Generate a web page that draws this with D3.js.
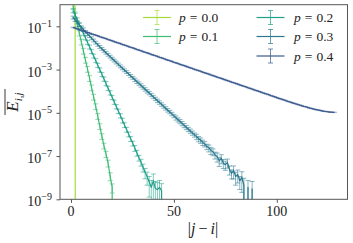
<!DOCTYPE html>
<html><head><meta charset="utf-8">
<script src="https://cdn.jsdelivr.net/npm/d3@7"></script>
<style>body{margin:0;background:#fff}svg{display:block}
text{font-family:"Liberation Serif","Times New Roman",serif;}
</style>
</head><body><svg id="c" width="353" height="243"></svg>
<script>
// ---- data (log10 of mean E_ij, -Infinity = exactly zero) ----
const pLabels = ["0.0", "0.1", "0.2", "0.3", "0.4"];
const colors = ["#a5db36", "#3dbc74", "#1fa088", "#2a788e", "#3b5a8f"];
const xTicks = [0, 50, 100];
const yTickExps = [-1, -3, -5, -7, -9];

const logE_p00 = [0.0, -0.08, -Infinity];
const logE_p01 = [-0.05, -0.45, -0.87, -1.29, -1.71, -2.13, -2.55, -2.97, -3.40, -3.83, -4.26, -4.70, -5.15, -5.62, -6.08, -6.52, -6.90, -7.32, -7.92, -8.45, -Infinity];
const logE_p02 = [-0.27, -0.48, -0.69, -0.90, -1.11, -1.32, -1.53, -1.74, -1.95, -2.16, -2.37, -2.58, -2.80, -3.01, -3.22, -3.43, -3.64, -3.86, -4.07, -4.28, -4.50, -4.71, -4.92, -5.13, -5.35, -5.56, -5.77, -5.99, -6.20, -6.41, -6.63, -6.85, -7.08, -7.28, -7.52, -7.75, -7.95, -8.20, -8.45, -8.15, -8.50, -8.55, -8.45, -8.60, -Infinity];
const logE_p03 = [-0.59, -0.71, -0.82, -0.93, -1.04, -1.14, -1.25, -1.35, -1.45, -1.55, -1.65, -1.75, -1.85, -1.95, -2.04, -2.13, -2.22, -2.31, -2.40, -2.49, -2.58, -2.67, -2.76, -2.85, -2.94, -3.03, -3.11, -3.20, -3.29, -3.38, -3.47, -3.56, -3.64, -3.73, -3.82, -3.91, -4.00, -4.08, -4.17, -4.26, -4.35, -4.44, -4.52, -4.61, -4.70, -4.79, -4.88, -4.96, -5.05, -5.14, -5.23, -5.32, -5.40, -5.49, -5.58, -5.67, -5.76, -5.84, -5.93, -6.02, -6.10, -6.20, -6.27, -6.37, -6.44, -6.56, -6.62, -6.74, -6.80, -6.95, -7.02, -7.22, -7.10, -7.32, -7.40, -7.30, -7.62, -7.80, -7.66, -7.95, -7.85, -8.15, -7.98, -8.35, -Infinity, -8.45, -Infinity, -8.50];
const logE_p04 = [-1.05, -1.08, -1.12, -1.15, -1.18, -1.21, -1.25, -1.28, -1.31, -1.35, -1.38, -1.41, -1.44, -1.48, -1.51, -1.54, -1.57, -1.61, -1.64, -1.67, -1.71, -1.74, -1.77, -1.80, -1.84, -1.87, -1.90, -1.94, -1.97, -2.00, -2.03, -2.07, -2.10, -2.13, -2.17, -2.20, -2.23, -2.26, -2.30, -2.33, -2.36, -2.39, -2.43, -2.46, -2.49, -2.53, -2.56, -2.59, -2.62, -2.66, -2.69, -2.72, -2.76, -2.79, -2.82, -2.85, -2.89, -2.92, -2.95, -2.99, -3.02, -3.05, -3.08, -3.12, -3.15, -3.18, -3.21, -3.25, -3.28, -3.31, -3.35, -3.38, -3.41, -3.44, -3.48, -3.51, -3.54, -3.58, -3.61, -3.64, -3.67, -3.71, -3.74, -3.77, -3.80, -3.84, -3.87, -3.90, -3.94, -3.97, -4.00, -4.03, -4.07, -4.10, -4.13, -4.16, -4.20, -4.23, -4.26, -4.30, -4.33, -4.36, -4.39, -4.42, -4.46, -4.49, -4.52, -4.55, -4.58, -4.61, -4.64, -4.67, -4.70, -4.72, -4.75, -4.78, -4.80, -4.83, -4.85, -4.87, -4.89, -4.91, -4.93, -4.94, -4.955, -4.965, -4.975, -4.98];

// relative standard errors (error / value)
const err_p00 = [0, 0, 0];
const err_p01 = [0.3, 0.3, 0.3, 0.3, 0.3, 0.3, 0.3, 0.3, 0.3, 0.3, 0.3, 0.3, 0.3, 0.3, 0.3, 0.3, 0.32, 0.35, 0.4, 0.45, 0];
const err_p02 = [0.2, 0.2, 0.2, 0.2, 0.2, 0.2, 0.2, 0.2, 0.2, 0.2, 0.2, 0.2, 0.22, 0.22, 0.22, 0.22, 0.22, 0.22, 0.22, 0.22, 0.22, 0.22, 0.22, 0.22, 0.25, 0.25, 0.25, 0.25, 0.25, 0.25, 0.3, 0.3, 0.3, 0.35, 0.4, 0.5, 0.6, 0.8, 1.1, 1.1, 1.1, 1.1, 1.1, 1.1, 0];
const err_p03 = [0.15, 0.15, 0.15, 0.15, 0.15, 0.15, 0.15, 0.15, 0.15, 0.15, 0.15, 0.15, 0.15, 0.15, 0.15, 0.15, 0.15, 0.15, 0.15, 0.15, 0.15, 0.15, 0.15, 0.15, 0.15, 0.15, 0.15, 0.15, 0.15, 0.15, 0.18, 0.18, 0.18, 0.18, 0.18, 0.18, 0.18, 0.18, 0.18, 0.18, 0.18, 0.18, 0.18, 0.18, 0.18, 0.18, 0.18, 0.18, 0.18, 0.18, 0.22, 0.22, 0.22, 0.22, 0.22, 0.22, 0.22, 0.22, 0.22, 0.22, 0.28, 0.28, 0.28, 0.28, 0.28, 0.28, 0.35, 0.35, 0.35, 0.35, 0.45, 0.45, 0.45, 0.45, 0.45, 0.45, 0.45, 0.45, 0.6, 0.6, 0.6, 0.6, 0.8, 1.1, 0, 1.1, 0, 1.1];
const err_p04 = [0.03, 0.03, 0.03, 0.03, 0.03, 0.03, 0.03, 0.03, 0.03, 0.03, 0.03, 0.03, 0.03, 0.03, 0.03, 0.03, 0.03, 0.03, 0.03, 0.03, 0.03, 0.03, 0.03, 0.03, 0.03, 0.03, 0.03, 0.03, 0.03, 0.03, 0.03, 0.03, 0.03, 0.03, 0.03, 0.03, 0.03, 0.03, 0.03, 0.03, 0.03, 0.03, 0.03, 0.03, 0.03, 0.03, 0.03, 0.03, 0.03, 0.03, 0.03, 0.03, 0.03, 0.03, 0.03, 0.03, 0.03, 0.03, 0.03, 0.03, 0.03, 0.03, 0.03, 0.03, 0.03, 0.03, 0.03, 0.03, 0.03, 0.03, 0.03, 0.03, 0.03, 0.03, 0.03, 0.03, 0.03, 0.03, 0.03, 0.03, 0.03, 0.03, 0.03, 0.03, 0.03, 0.03, 0.03, 0.03, 0.03, 0.03, 0.03, 0.03, 0.03, 0.03, 0.03, 0.03, 0.03, 0.03, 0.03, 0.03, 0.03, 0.03, 0.03, 0.03, 0.03, 0.03, 0.03, 0.03, 0.03, 0.03, 0.03, 0.03, 0.03, 0.03, 0.03, 0.03, 0.03, 0.03, 0.03, 0.03, 0.03, 0.03, 0.03, 0.03, 0.03, 0.03, 0.03, 0.03];

const seriesLog = [logE_p00, logE_p01, logE_p02, logE_p03, logE_p04];
const seriesErr = [err_p00, err_p01, err_p02, err_p03, err_p04];

// ---- layout ----
const svg = d3.select("#c");
const L = 60, R = 347.5, T = 4.7, B = 199.3;
const x = d3.scaleLinear().domain([-5.35, 134.35]).range([L, R]);
const y = d3.scaleLog().domain([1e-9, 1]).range([B, T]);
const yOf = v => (v <= 0) ? B + 3000 : y(v);

svg.append("defs").append("clipPath").attr("id", "clip")
  .append("rect").attr("x", L).attr("y", T).attr("width", R - L).attr("height", B - T);

const plot = svg.append("g").attr("clip-path", "url(#clip)");
const capW = 2.5;

seriesLog.forEach((logs, si) => {
  const pts = logs.map((lv, i) => ({d: i + 1, v: lv === -Infinity ? 0 : Math.pow(10, lv), f: seriesErr[si][i]}));
  const g = plot.append("g");
  // error bars
  const eb = g.append("g").attr("stroke", colors[si]).attr("stroke-opacity", si === 4 ? 0.3 : 0.55).attr("stroke-width", 1);
  pts.filter(p => p.v > 0 && p.f > 0).forEach(p => {
    const lo = p.v * (1 - p.f), hi = p.v * (1 + p.f);
    const cx = x(p.d), yl = yOf(lo), yh = yOf(hi);
    eb.append("line").attr("x1", cx).attr("x2", cx).attr("y1", yl).attr("y2", yh);
    eb.append("line").attr("x1", cx - capW).attr("x2", cx + capW).attr("y1", yh).attr("y2", yh);
    eb.append("line").attr("x1", cx - capW).attr("x2", cx + capW).attr("y1", yl).attr("y2", yl);
  });
  // data line
  g.append("path")
    .attr("d", d3.line().x(p => x(p.d)).y(p => yOf(p.v))(pts))
    .attr("fill", "none").attr("stroke", colors[si]).attr("stroke-width", 1.2)
    .attr("stroke-linejoin", "round");
});

// ---- axes ----
const axisCol = "#555";
const xAx = svg.append("g").attr("transform", `translate(0,${B})`)
  .call(d3.axisBottom(x).tickValues(xTicks).tickSize(3.5).tickFormat(""));
xAx.select(".domain").remove();
xAx.selectAll("line").attr("stroke", axisCol);
xTicks.forEach(t => {
  svg.append("text").attr("x", x(t)).attr("y", 215.5).attr("text-anchor", "middle")
    .attr("font-size", 14).attr("fill", "#222").text(t);
});

const yAx = svg.append("g").attr("transform", `translate(${L},0)`)
  .call(d3.axisLeft(y).tickValues(yTickExps.map(e => Math.pow(10, e))).tickSize(3.5).tickFormat(""));
yAx.select(".domain").remove();
yAx.selectAll("line").attr("stroke", axisCol);
yTickExps.forEach(e => {
  const ty = y(Math.pow(10, e));
  const t = svg.append("text").attr("x", 52).attr("y", ty + 7).attr("text-anchor", "end").attr("fill", "#222");
  t.append("tspan").attr("font-size", 14).text("10");
  t.append("tspan").attr("font-size", 10).attr("dy", -6.5).text("\u2212" + Math.abs(e));
});

// frame
svg.append("rect").attr("x", L).attr("y", T).attr("width", R - L).attr("height", B - T)
  .attr("fill", "none").attr("stroke", axisCol).attr("stroke-width", 1);

// x label
const xl = svg.append("text").attr("x", 203).attr("y", 234).attr("text-anchor", "middle")
  .attr("font-size", 16).attr("fill", "#222");
xl.append("tspan").text("|");
xl.append("tspan").attr("font-style", "italic").text("j");
xl.append("tspan").attr("dx", 3).text("\u2212");
xl.append("tspan").attr("dx", 3).attr("font-style", "italic").text("i");
xl.append("tspan").text("|");

// y label (overline E_{i,j})
const yl = svg.append("g").attr("transform", "translate(18,102) rotate(-90)");
const ylt = yl.append("text").attr("x", 0).attr("y", 0).attr("text-anchor", "middle").attr("fill", "#222");
ylt.append("tspan").attr("font-style", "italic").attr("font-size", 17).text("E");
ylt.append("tspan").attr("font-style", "italic").attr("font-size", 11).attr("dy", 3.5).text("i,j");
yl.append("line").attr("x1", -13).attr("x2", 13).attr("y1", -13).attr("y2", -13)
  .attr("stroke", "#222").attr("stroke-width", 0.9);

// ---- legend ----
const legPos = [
  {gx: 143, tx: 179, ry: 17.5},
  {gx: 143, tx: 179, ry: 36.5},
  {gx: 256.5, tx: 294, ry: 17.5},
  {gx: 256.5, tx: 294, ry: 36.5},
  {gx: 256.5, tx: 294, ry: 56}
];
pLabels.forEach((lab, i) => {
  const lp = legPos[i];
  const g = svg.append("g");
  const hl = 28, cx = lp.gx + hl / 2;
  g.append("line").attr("x1", lp.gx).attr("x2", lp.gx + hl).attr("y1", lp.ry).attr("y2", lp.ry)
    .attr("stroke", colors[i]).attr("stroke-width", 1.2);
  const eb = g.append("g").attr("stroke", colors[i]).attr("stroke-opacity", 0.7).attr("stroke-width", 1);
  eb.append("line").attr("x1", cx).attr("x2", cx).attr("y1", lp.ry - 7).attr("y2", lp.ry + 7);
  eb.append("line").attr("x1", cx - capW).attr("x2", cx + capW).attr("y1", lp.ry - 7).attr("y2", lp.ry - 7);
  eb.append("line").attr("x1", cx - capW).attr("x2", cx + capW).attr("y1", lp.ry + 7).attr("y2", lp.ry + 7);
  const t = g.append("text").attr("x", lp.tx).attr("y", lp.ry + 4.5)
    .attr("font-size", 13.5).attr("fill", "#222");
  t.append("tspan").attr("font-style", "italic").text("p");
  t.append("tspan").attr("dx", 4).text("=");
  t.append("tspan").attr("dx", 4).text(lab);
});
</script>
</body></html>
